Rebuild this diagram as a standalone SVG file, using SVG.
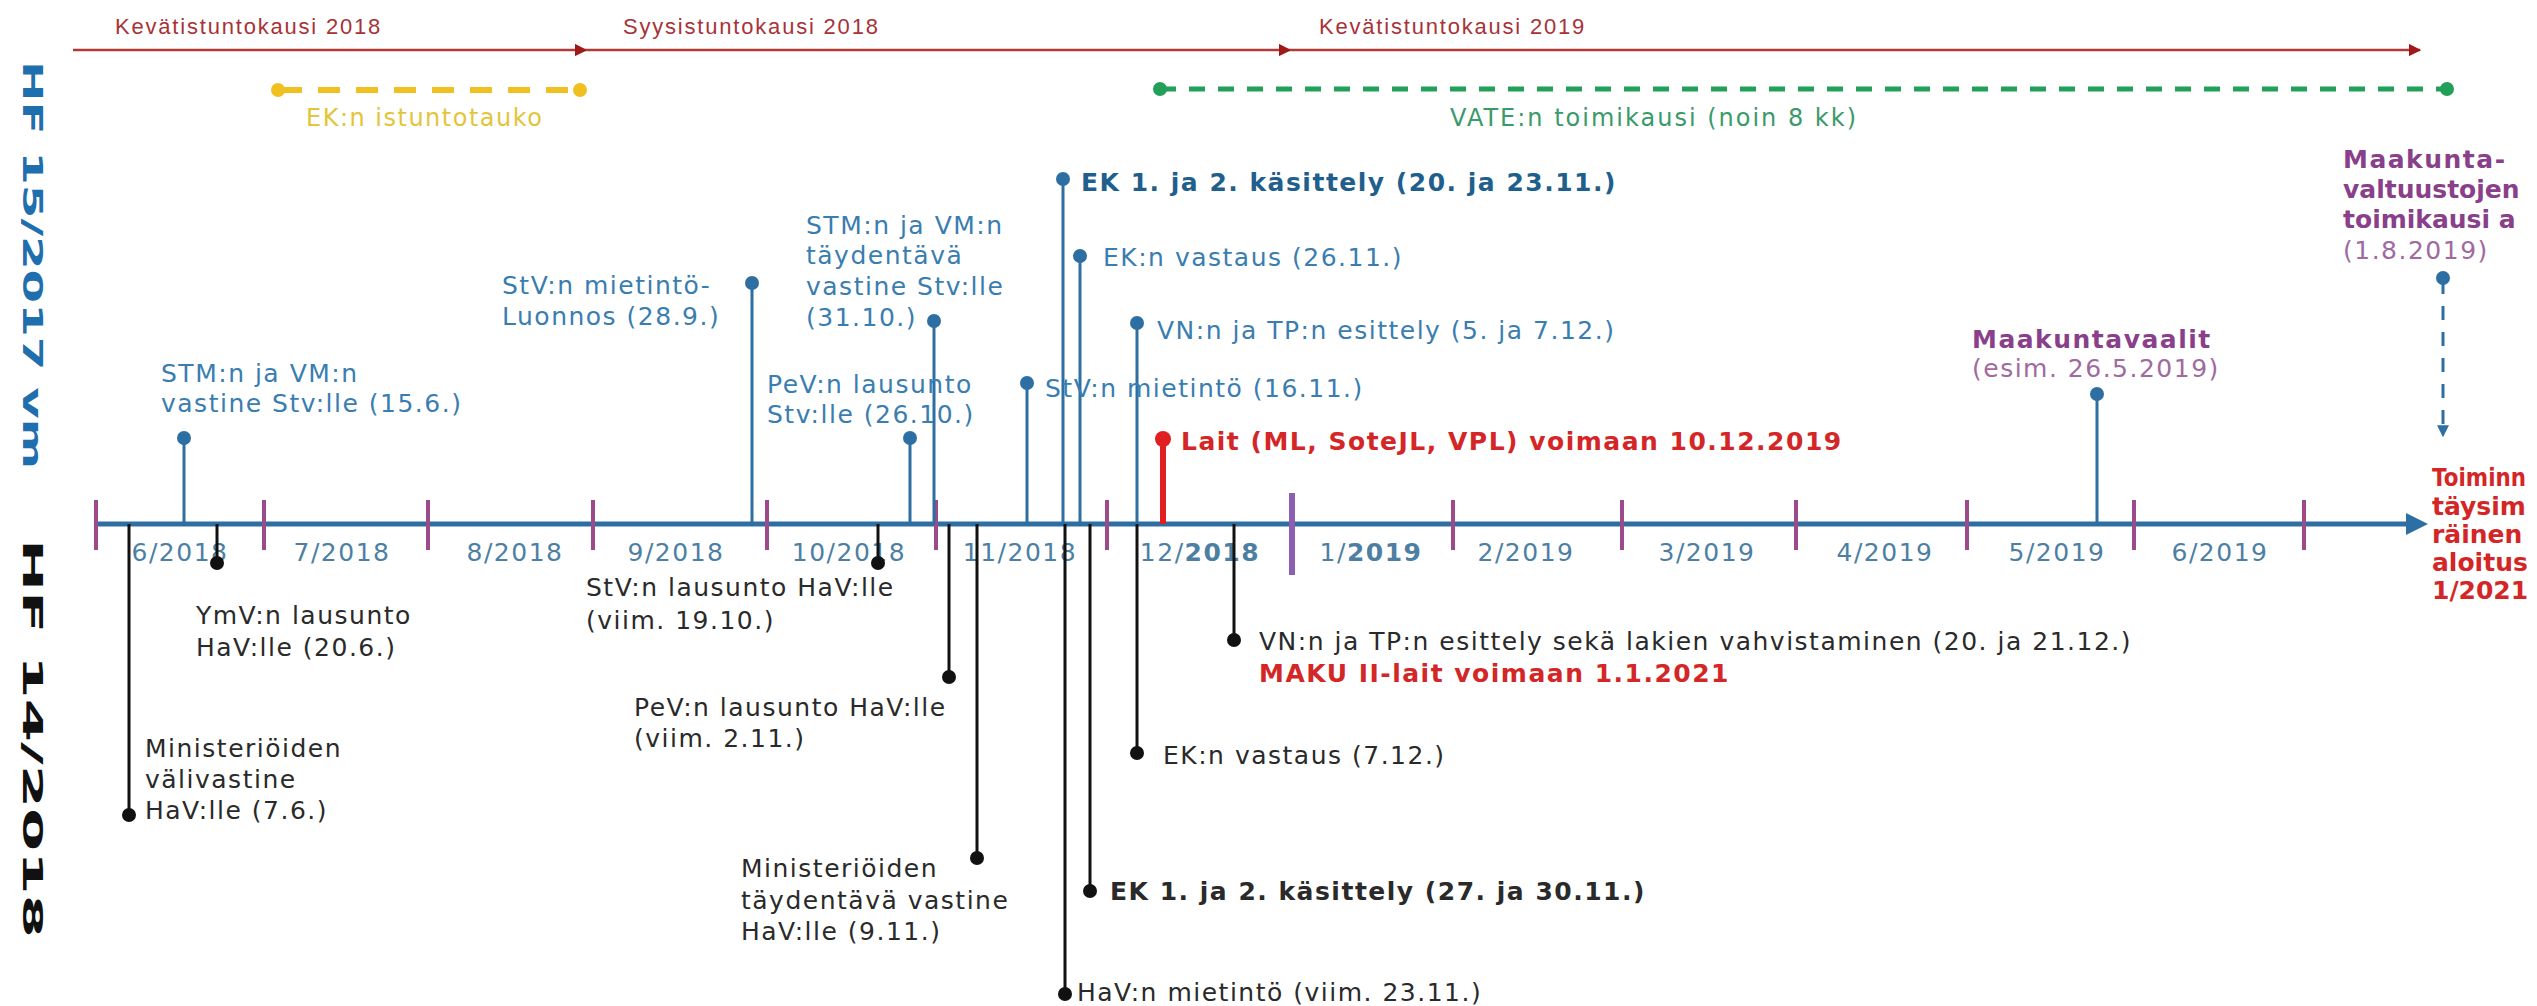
<svg xmlns="http://www.w3.org/2000/svg" width="2537" height="1006" viewBox="0 0 2537 1006">
<defs>
<style>
.t{font-family:"DejaVu Sans",Verdana,sans-serif;font-size:25px;letter-spacing:1.5px}
.b{font-weight:bold}
.blue{fill:#3a7db0}
.dblue{fill:#1f5f8e}
.blk{fill:#2a2a2a}
.red{fill:#d42626}
.pur{fill:#8a3f8a}
.lpur{fill:#a06aa0}
.mon{fill:#4d7fa3}
.season{font-family:"Liberation Sans",Arial,sans-serif;font-size:22px;letter-spacing:1.8px;fill:#a83238}
.bs{stroke:#2e6fa3;stroke-width:3;fill:none}
.ks{stroke:#111;stroke-width:3;fill:none}
.tick{stroke:#9c4a8c;stroke-width:4}
.bdot{fill:#2e6fa3}
.kdot{fill:#111}
.vt{font-family:"DejaVu Sans",sans-serif;font-weight:bold;font-size:26px}
.edge{letter-spacing:0}
</style>
<marker id="ra" viewBox="0 0 10 10" refX="9" refY="5" markerWidth="5" markerHeight="5" orient="auto" markerUnits="strokeWidth"><path d="M0,0 L10,5 L0,10 z" fill="#a01818"/></marker>
<marker id="ba" viewBox="0 0 10 10" refX="9" refY="5" markerWidth="4" markerHeight="4" orient="auto" markerUnits="strokeWidth"><path d="M0,0 L10,5 L0,10 z" fill="#2e6fa3"/></marker>
</defs>
<rect width="2537" height="1006" fill="#fff"/>

<!-- vertical titles -->
<g id="title-hf15">
<text class="vt" transform="translate(23,61) rotate(90)" fill="#1f6fae" textLength="408" lengthAdjust="spacingAndGlyphs">HF 15/2017 vm</text>
</g>
<g id="title-hf14">
<text class="vt" transform="translate(23,539) rotate(90)" fill="#111" textLength="399" lengthAdjust="spacingAndGlyphs">HF 14/2018</text>
</g>

<!-- session periods -->
<g id="sessions">
<line x1="73" y1="50" x2="586" y2="50" stroke="#b03a3a" stroke-width="2.5" marker-end="url(#ra)"/>
<line x1="586" y1="50" x2="1290" y2="50" stroke="#b03a3a" stroke-width="2.5" marker-end="url(#ra)"/>
<line x1="1290" y1="50" x2="2420" y2="50" stroke="#b03a3a" stroke-width="2.5" marker-end="url(#ra)"/>
<text class="season" x="115" y="34">Kevätistuntokausi 2018</text>
<text class="season" x="623" y="34">Syysistuntokausi 2018</text>
<text class="season" x="1319" y="34">Kevätistuntokausi 2019</text>
</g>

<g id="ek-istuntotauko">
<line x1="280" y1="90" x2="580" y2="90" stroke="#f0c020" stroke-width="6" stroke-dasharray="22 16"/>
<circle cx="278" cy="90" r="7" fill="#f0c020"/>
<circle cx="580" cy="90" r="7" fill="#f0c020"/>
<text x="306" y="126" font-family="DejaVu Sans,sans-serif" font-size="24" letter-spacing="1.5" fill="#e3c53a">EK:n istuntotauko</text>
</g>

<g id="vate">
<line x1="1160" y1="89" x2="2447" y2="89" stroke="#22a05a" stroke-width="5" stroke-dasharray="16 13"/>
<circle cx="1160" cy="89" r="7" fill="#22a05a"/>
<circle cx="2447" cy="89" r="7" fill="#22a05a"/>
<text x="1450" y="126" font-family="DejaVu Sans,sans-serif" font-size="24" letter-spacing="2" fill="#3a9a6a">VATE:n toimikausi (noin 8 kk)</text>
</g>

<!-- timeline -->
<g id="timeline">
<line x1="96" y1="524" x2="2418" y2="524" stroke="#2e6fa3" stroke-width="5"/>
<path d="M2406,513 L2428,524 L2406,535 z" fill="#2e6fa3"/>
<g>
<line class="tick" x1="96" y1="500" x2="96" y2="550"/>
<line class="tick" x1="264" y1="500" x2="264" y2="550"/>
<line class="tick" x1="428" y1="500" x2="428" y2="550"/>
<line class="tick" x1="593" y1="500" x2="593" y2="550"/>
<line class="tick" x1="767" y1="500" x2="767" y2="550"/>
<line class="tick" x1="936" y1="500" x2="936" y2="550"/>
<line class="tick" x1="1107" y1="500" x2="1107" y2="550"/>
<line x1="1292" y1="493" x2="1292" y2="575" stroke="#8e5fb0" stroke-width="6"/>
<line class="tick" x1="1453" y1="500" x2="1453" y2="550"/>
<line class="tick" x1="1622" y1="500" x2="1622" y2="550"/>
<line class="tick" x1="1796" y1="500" x2="1796" y2="550"/>
<line class="tick" x1="1967" y1="500" x2="1967" y2="550"/>
<line class="tick" x1="2134" y1="500" x2="2134" y2="550"/>
<line class="tick" x1="2304" y1="500" x2="2304" y2="550"/>
</g>
<g class="t mon" text-anchor="middle">
<text x="180" y="561">6/2018</text>
<text x="342" y="561">7/2018</text>
<text x="515" y="561">8/2018</text>
<text x="676" y="561">9/2018</text>
<text x="849" y="561">10/2018</text>
<text x="1020" y="561">11/2018</text>
<text x="1200" y="561">12/<tspan font-weight="bold">2018</tspan></text>
<text x="1371" y="561">1/<tspan font-weight="bold">2019</tspan></text>
<text x="1526" y="561">2/2019</text>
<text x="1707" y="561">3/2019</text>
<text x="1885" y="561">4/2019</text>
<text x="2057" y="561">5/2019</text>
<text x="2220" y="561">6/2019</text>
</g>
</g>

<!-- connectors (stems) -->
<g id="connectors">
<line class="bs" x1="184" y1="524" x2="184" y2="438"/>
<line class="bs" x1="752" y1="524" x2="752" y2="283"/>
<line class="bs" x1="910" y1="524" x2="910" y2="438"/>
<line class="bs" x1="934" y1="524" x2="934" y2="321"/>
<line class="bs" x1="1027" y1="524" x2="1027" y2="383"/>
<line class="bs" x1="1063" y1="524" x2="1063" y2="179"/>
<line class="bs" x1="1080" y1="524" x2="1080" y2="256"/>
<line class="bs" x1="1137" y1="524" x2="1137" y2="323"/>
<line x1="1163" y1="524" x2="1163" y2="439" stroke="#e02020" stroke-width="6"/>
<line class="bs" x1="2097" y1="524" x2="2097" y2="394"/>
<line class="bs" x1="2443" y1="278" x2="2443" y2="294"/>
<line class="bs" x1="2443" y1="306" x2="2443" y2="436" stroke-dasharray="14 12" marker-end="url(#ba)"/>
<line class="ks" x1="129" y1="524" x2="129" y2="815"/>
<line class="ks" x1="217" y1="524" x2="217" y2="563"/>
<line class="ks" x1="878" y1="524" x2="878" y2="563"/>
<line class="ks" x1="949" y1="524" x2="949" y2="677"/>
<line class="ks" x1="977" y1="524" x2="977" y2="858"/>
<line class="ks" x1="1065" y1="524" x2="1065" y2="994"/>
<line class="ks" x1="1090" y1="524" x2="1090" y2="891"/>
<line class="ks" x1="1137" y1="524" x2="1137" y2="753"/>
<line class="ks" x1="1234" y1="524" x2="1234" y2="640"/>
</g>

<!-- events above the timeline (HF 15/2017 vm) -->
<g id="e-stm-vastine">
<circle class="bdot" cx="184" cy="438" r="7"/>
<text class="t blue" x="161" y="382">STM:n ja VM:n</text>
<text class="t blue" x="161" y="412">vastine Stv:lle (15.6.)</text>
</g>
<g id="e-stv-luonnos">
<circle class="bdot" cx="752" cy="283" r="7"/>
<text class="t blue" x="502" y="294">StV:n mietintö-</text>
<text class="t blue" x="502" y="325">Luonnos (28.9.)</text>
</g>
<g id="e-pev-stv">
<circle class="bdot" cx="910" cy="438" r="7"/>
<text class="t blue" x="767" y="393">PeV:n lausunto</text>
<text class="t blue" x="767" y="423">Stv:lle (26.10.)</text>
</g>
<g id="e-stm-taydentava">
<circle class="bdot" cx="934" cy="321" r="7"/>
<text class="t blue" x="806" y="234">STM:n ja VM:n</text>
<text class="t blue" x="806" y="264">täydentävä</text>
<text class="t blue" x="806" y="295">vastine Stv:lle</text>
<text class="t blue" x="806" y="326">(31.10.)</text>
</g>
<g id="e-stv-mietinto">
<circle class="bdot" cx="1027" cy="383" r="7"/>
<text class="t blue" x="1045" y="397">StV:n mietintö (16.11.)</text>
</g>
<g id="e-ek-kasittely-1">
<circle class="bdot" cx="1063" cy="179" r="7"/>
<text class="t b dblue" x="1081" y="191">EK 1. ja 2. käsittely (20. ja 23.11.)</text>
</g>
<g id="e-ek-vastaus-1">
<circle class="bdot" cx="1080" cy="256" r="7"/>
<text class="t blue" x="1103" y="266">EK:n vastaus (26.11.)</text>
</g>
<g id="e-vn-tp-1">
<circle class="bdot" cx="1137" cy="323" r="7"/>
<text class="t blue" x="1157" y="339">VN:n ja TP:n esittely (5. ja 7.12.)</text>
</g>
<g id="e-lait-voimaan">
<circle cx="1163" cy="439" r="8" fill="#e02020"/>
<text class="t b red" x="1181" y="450">Lait (ML, SoteJL, VPL) voimaan 10.12.2019</text>
</g>
<g id="e-maakuntavaalit">
<circle class="bdot" cx="2097" cy="394" r="7"/>
<text class="t b pur" x="1972" y="348">Maakuntavaalit</text>
<text class="t lpur" x="1972" y="377">(esim. 26.5.2019)</text>
</g>
<g id="e-valtuustot">
<circle class="bdot" cx="2443" cy="278" r="7"/>
<text class="t b pur" x="2343" y="168">Maakunta-</text>
<text class="t b pur edge" x="2343" y="198">valtuustojen</text>
<text class="t b pur edge" x="2343" y="228">toimikausi a</text>
<text class="t lpur" x="2343" y="259">(1.8.2019)</text>
</g>
<g id="e-toiminta">
<text class="t b red edge" x="2432" y="486" textLength="94" lengthAdjust="spacingAndGlyphs">Toiminn</text>
<text class="t b red edge" x="2432" y="515">täysim</text>
<text class="t b red edge" x="2432" y="543">räinen</text>
<text class="t b red edge" x="2432" y="571">aloitus</text>
<text class="t b red edge" x="2432" y="599">1/2021</text>
</g>

<!-- events below the timeline (HF 14/2018) -->
<g id="e-min-valivastine">
<circle class="kdot" cx="129" cy="815" r="7"/>
<text class="t blk" x="145" y="757">Ministeriöiden</text>
<text class="t blk" x="145" y="788">välivastine</text>
<text class="t blk" x="145" y="819">HaV:lle (7.6.)</text>
</g>
<g id="e-ymv">
<circle class="kdot" cx="217" cy="563" r="7"/>
<text class="t blk" x="196" y="624">YmV:n lausunto</text>
<text class="t blk" x="196" y="656">HaV:lle (20.6.)</text>
</g>
<g id="e-stv-hav">
<circle class="kdot" cx="878" cy="563" r="7"/>
<text class="t blk" x="586" y="596">StV:n lausunto HaV:lle</text>
<text class="t blk" x="586" y="629">(viim. 19.10.)</text>
</g>
<g id="e-pev-hav">
<circle class="kdot" cx="949" cy="677" r="7"/>
<text class="t blk" x="634" y="716">PeV:n lausunto HaV:lle</text>
<text class="t blk" x="634" y="747">(viim. 2.11.)</text>
</g>
<g id="e-min-taydentava">
<circle class="kdot" cx="977" cy="858" r="7"/>
<text class="t blk" x="741" y="877">Ministeriöiden</text>
<text class="t blk" x="741" y="909">täydentävä vastine</text>
<text class="t blk" x="741" y="940">HaV:lle (9.11.)</text>
</g>
<g id="e-hav-mietinto">
<circle class="kdot" cx="1065" cy="994" r="7"/>
<text class="t blk" x="1077" y="1001">HaV:n mietintö (viim. 23.11.)</text>
</g>
<g id="e-ek-kasittely-2">
<circle class="kdot" cx="1090" cy="891" r="7"/>
<text class="t b blk" x="1110" y="900">EK 1. ja 2. käsittely (27. ja 30.11.)</text>
</g>
<g id="e-ek-vastaus-2">
<circle class="kdot" cx="1137" cy="753" r="7"/>
<text class="t blk" x="1163" y="764">EK:n vastaus (7.12.)</text>
</g>
<g id="e-vn-tp-2">
<circle class="kdot" cx="1234" cy="640" r="7"/>
<text class="t blk" x="1259" y="650" letter-spacing="1.9">VN:n ja TP:n esittely sekä lakien vahvistaminen (20. ja 21.12.)</text>
<text class="t b red" x="1259" y="682">MAKU II-lait voimaan 1.1.2021</text>
</g>
</svg>
